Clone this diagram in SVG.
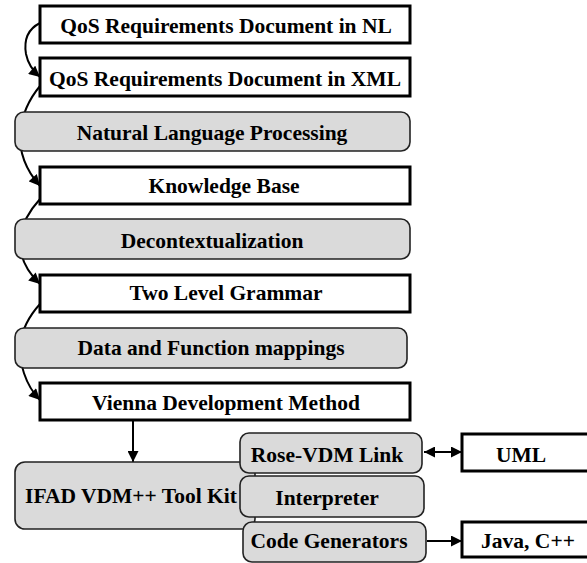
<svg xmlns="http://www.w3.org/2000/svg" width="587" height="563" viewBox="0 0 587 563">
<defs>
<marker id="ah" viewBox="0 0 10 10" refX="10" refY="5" markerWidth="12" markerHeight="11" markerUnits="userSpaceOnUse" orient="auto-start-reverse">
<path d="M0,0 L10,5 L0,10 Z" fill="#000"/>
</marker>
<style>
.doc{fill:#fff;stroke:#000;stroke-width:3}
.proc{fill:#dadada;stroke:#222;stroke-width:1.6}
.t{font-family:"Liberation Serif","Times New Roman",serif;font-weight:bold;font-size:21.5px;fill:#000;text-anchor:middle}
.c{fill:none;stroke:#000;stroke-width:2}
</style>
</defs>
<rect width="587" height="563" fill="#fff"/>
<g id="connectors">
<path class="c" d="M40,23 C26,30 24,42 26,54 C28,64 33,71 40,77" marker-end="url(#ah)"/>
<path class="c" d="M40,86 C30,98 22,115 20,132 C19,150 24,168 40,186" marker-end="url(#ah)"/>
<path class="c" d="M40,199 C30,210 22,222 20,238 C19,255 25,270 40,284" marker-end="url(#ah)"/>
<path class="c" d="M40,304 C30,315 22,328 20,345 C19,362 25,385 40,400" marker-end="url(#ah)"/>
<path class="c" d="M133,420 L133,462" marker-end="url(#ah)"/>
<path class="c" d="M424,452 L462,452" marker-start="url(#ah)" marker-end="url(#ah)"/>
<path class="c" d="M427,541 L462,541" marker-end="url(#ah)"/>
</g>
<g id="nl"><rect class="doc" x="40" y="6" width="370" height="37"/><text class="t" x="226" y="33">QoS Requirements Document in NL</text></g>
<g id="xml"><rect class="doc" x="40" y="58" width="370" height="38"/><text class="t" x="225" y="86">QoS Requirements Document in XML</text></g>
<g id="nlp"><rect class="proc" x="15" y="112" width="395" height="39" rx="9"/><text class="t" x="212" y="140">Natural Language Processing</text></g>
<g id="kb"><rect class="doc" x="40" y="167" width="370" height="37"/><text class="t" x="224" y="193">Knowledge Base</text></g>
<g id="decon"><rect class="proc" x="15" y="219" width="395" height="40" rx="9"/><text class="t" x="212" y="248">Decontextualization</text></g>
<g id="tlg"><rect class="doc" x="40" y="275" width="370" height="37"/><text class="t" x="226" y="300">Two Level Grammar</text></g>
<g id="dfm"><rect class="proc" x="15" y="328" width="392" height="40" rx="9"/><text class="t" x="211" y="355">Data and Function mappings</text></g>
<g id="vdm"><rect class="doc" x="40" y="383" width="370" height="37"/><text class="t" x="226" y="410">Vienna Development Method</text></g>
<g id="ifad"><rect class="proc" x="15" y="462" width="240" height="67" rx="10"/><text class="t" x="131" y="503">IFAD VDM++ Tool Kit</text></g>
<g id="rose"><rect class="proc" x="240" y="433" width="182" height="40" rx="9"/><text class="t" x="327" y="462">Rose-VDM Link</text></g>
<g id="interp"><rect class="proc" x="240" y="476" width="184" height="41" rx="9"/><text class="t" x="327" y="505">Interpreter</text></g>
<g id="codegen"><rect class="proc" x="243" y="522" width="183" height="40" rx="9"/><text class="t" x="329" y="548">Code Generators</text></g>
<g id="uml"><rect class="doc" x="462" y="434" width="130" height="37"/><text class="t" x="521" y="462">UML</text></g>
<g id="java"><rect class="doc" x="462" y="522" width="130" height="35"/><text class="t" x="528" y="548">Java, C++</text></g>
</svg>
